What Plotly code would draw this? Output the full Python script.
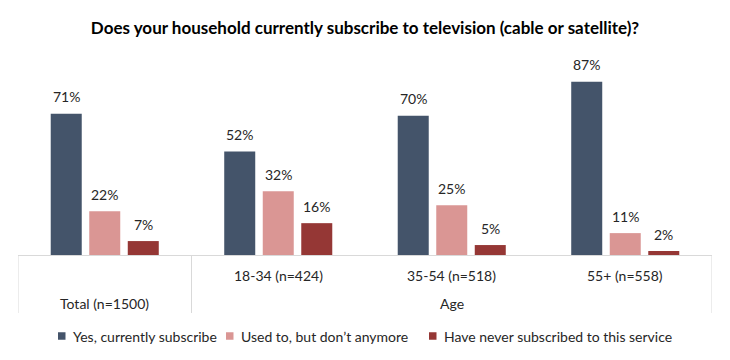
import plotly.graph_objects as go

categories = ["Total (n=1500)", "18-34 (n=424)", "35-54 (n=518)", "55+ (n=558)"]
group_label = "Age"
series_names = ["Yes, currently subscribe", "Used to, but don\u2019t anymore", "Have never subscribed to this service"]
yes_vals = [71, 52, 70, 87]
used_vals = [22, 32, 25, 11]
never_vals = [7, 16, 5, 2]
title_text = "Does your household currently subscribe to television (cable or satellite)?"

colors = ["#44546A", "#DA9694", "#953735"]
FONT = "Lato"
TXT = "#262626"

series = [yes_vals, used_vals, never_vals]

W, H = 730, 360
ML, MR, MT, MB = 18, 18, 56, 105
PW, PH = W - ML - MR, H - MT - MB


def px_x(px):
    return (px - ML) / PW


def px_y(py):
    return (H - MB - py) / PH


fig = go.Figure()
for name, vals, col in zip(series_names, series, colors):
    fig.add_trace(go.Bar(x=categories, y=vals, name=name, marker_color=col,
                         marker_line_width=0, hoverinfo="skip", showlegend=False))

annotations = []
slot = 38.5
for i, vals in enumerate(series):
    for c, v in zip(categories, vals):
        annotations.append(dict(x=c, y=v, xref="x", yref="y", text=f"{v}%",
                                showarrow=False, xshift=(i - 1) * slot, yshift=17,
                                yanchor="middle", font=dict(family=FONT, size=14, color=TXT)))

# category labels
for c in categories[1:]:
    annotations.append(dict(x=c, y=px_y(275), xref="x", yref="paper", text=c, showarrow=False,
                            yanchor="middle", font=dict(family=FONT, size=14, color=TXT)))
annotations.append(dict(x=categories[0], y=px_y(303), xref="x", yref="paper", text=categories[0],
                        showarrow=False, yanchor="middle", font=dict(family=FONT, size=14, color=TXT)))
annotations.append(dict(x=categories[2], y=px_y(303), xref="x", yref="paper", text=group_label,
                        showarrow=False, yanchor="middle", font=dict(family=FONT, size=14, color=TXT)))

shapes = []
for xv in [-0.5, 0.5, 3.5]:
    shapes.append(dict(type="line", xref="x", yref="paper", x0=xv, x1=xv, y0=0, y1=px_y(313),
                       line=dict(color="#D9D9D9", width=1)))

# manual legend
legend_sq_x = [58, 226, 429]
legend_y = 336
for name, col, sx in zip(series_names, colors, legend_sq_x):
    shapes.append(dict(type="rect", xref="paper", yref="paper",
                       x0=px_x(sx), x1=px_x(sx + 7.5), y0=px_y(legend_y + 3.75), y1=px_y(legend_y - 3.75),
                       fillcolor=col, line=dict(width=0)))
    annotations.append(dict(x=px_x(sx + 13), y=px_y(legend_y), xref="paper", yref="paper",
                            text=name, showarrow=False, xanchor="left", yanchor="middle",
                            font=dict(family=FONT, size=14, color=TXT)))

fig.update_layout(
    width=W, height=H,
    margin=dict(l=ML, r=MR, t=MT, b=MB),
    paper_bgcolor="white", plot_bgcolor="white",
    barmode="group", bargap=0.334, bargroupgap=0.195,
    title=dict(text=f"<b>{title_text}</b>", x=0.5, xanchor="center", y=1 - 28 / H,
               yanchor="middle", font=dict(family=FONT, size=17, color="#000000")),
    xaxis=dict(showticklabels=False, showgrid=False, showline=True, linecolor="#D9D9D9",
               linewidth=1, ticks="", range=[-0.5, 3.5], fixedrange=True),
    yaxis=dict(visible=False, range=[0, 100], showgrid=False, zeroline=False, fixedrange=True),
    annotations=annotations, shapes=shapes,
    showlegend=False,
)

fig.write_html("out.html", config={"displayModeBar": False, "staticPlot": True},
               post_script="document.body.style.margin='0px';")
